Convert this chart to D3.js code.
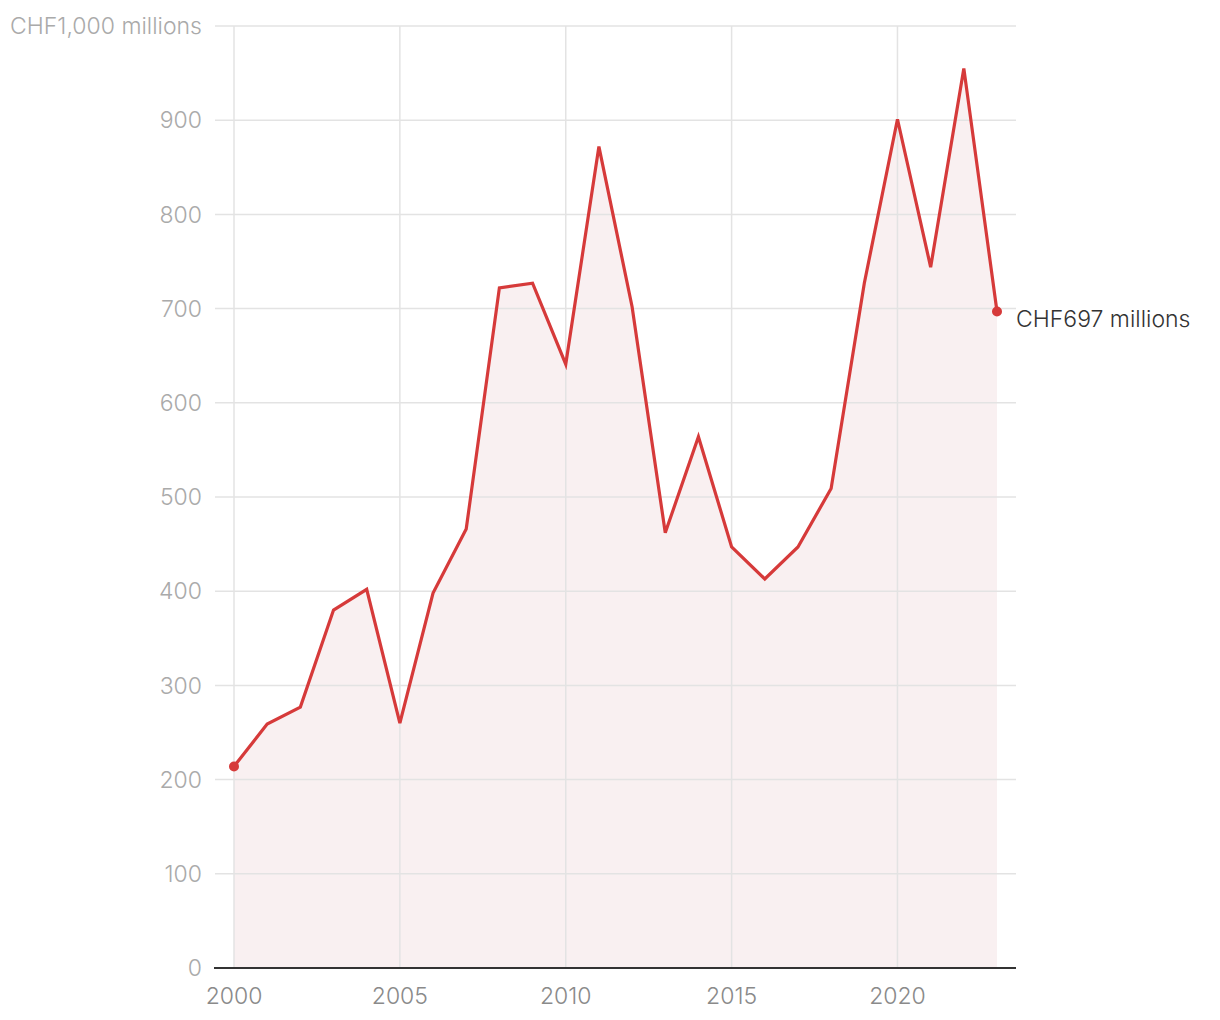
<!DOCTYPE html>
<html><head><meta charset="utf-8">
<script src="https://cdn.jsdelivr.net/npm/d3@7"></script>
<style>body{margin:0;background:#fff;} text{font-family:Inter,"Liberation Sans",Helvetica,Arial,sans-serif;}</style>
</head><body><svg id="c" width="1220" height="1020"></svg>
<script>
const years = [2000,2001,2002,2003,2004,2005,2006,2007,2008,2009,2010,2011,2012,2013,2014,2015,2016,2017,2018,2019,2020,2021,2022,2023];
const values = [214,259,277,380,402,260,398,466,722,727,641,872,702,462,564,447,413,447,509,727,901,744,955,697];
const yTicks = [0,100,200,300,400,500,600,700,800,900,1000];
const xTicks = [2000,2005,2010,2015,2020];
const topLabel = "CHF1,000 millions";
const endLabel = "CHF697 millions";

const svg = d3.select("#c");
const x = d3.scaleLinear().domain([2000,2023]).range([234,997]);
const y = d3.scaleLinear().domain([0,1000]).range([968,26]);
const xRight = 1016, gridLeft = 215;

svg.append("path").datum(years.map((d,i)=>[d,values[i]]))
  .attr("fill","#f9f0f1")
  .attr("d", d3.area().x(d=>x(d[0])).y0(y(0)).y1(d=>y(d[1])));

svg.append("g").selectAll("line").data(yTicks.filter(d=>d>0)).join("line")
  .attr("x1",gridLeft).attr("x2",xRight).attr("y1",d=>y(d)).attr("y2",d=>y(d))
  .attr("stroke","#e3e3e3").attr("stroke-width",1.5);
svg.append("g").selectAll("line").data(xTicks).join("line")
  .attr("x1",d=>x(d)).attr("x2",d=>x(d)).attr("y1",y(1000)).attr("y2",y(0))
  .attr("stroke","#e3e3e3").attr("stroke-width",1.5);

svg.append("g").selectAll("text").data(yTicks).join("text")
  .attr("x",202).attr("y",d=>y(d)).attr("dy","0.36em").attr("text-anchor","end")
  .attr("fill","#aaaaaa").attr("font-size",23).attr("font-weight",300)
  .text(d=> d===1000 ? topLabel : d);

svg.append("g").selectAll("text").data(xTicks).join("text")
  .attr("x",d=>x(d)).attr("y",1004).attr("text-anchor","middle")
  .attr("fill","#8a8a8a").attr("font-size",23).attr("font-weight",300).text(d=>d);

svg.append("line").attr("x1",gridLeft-1).attr("x2",xRight).attr("y1",y(0)).attr("y2",y(0))
  .attr("stroke","#333").attr("stroke-width",2);

svg.append("path").datum(years.map((d,i)=>[d,values[i]]))
  .attr("fill","none").attr("stroke","#d63a3a").attr("stroke-width",3.2)
  .attr("d", d3.line().x(d=>x(d[0])).y(d=>y(d[1])));

const ends = [0, years.length-1];
svg.append("g").selectAll("circle").data(ends).join("circle")
  .attr("cx",i=>x(years[i])).attr("cy",i=>y(values[i])).attr("r",5)
  .attr("fill","#d63a3a");

svg.append("text").attr("x",x(years[years.length-1])+19).attr("y",y(values[values.length-1])+7)
  .attr("dy","0.36em").attr("fill","#333").attr("font-size",23).attr("font-weight",300).text(endLabel);
</script></body></html>
